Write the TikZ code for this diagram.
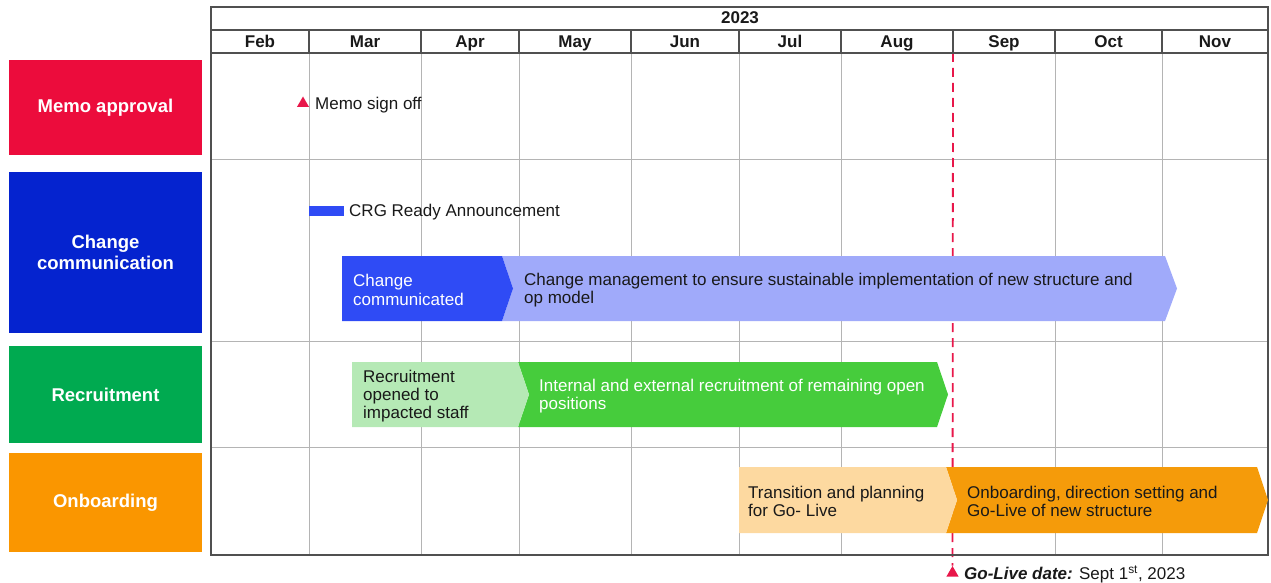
\documentclass[tikz,border=0pt]{standalone}
\usepackage{fontspec}
\setmainfont{Liberation Sans}
\usetikzlibrary{shapes.geometric}
\definecolor{memored}{RGB}{236,12,60}
\definecolor{chblue}{RGB}{5,35,207}
\definecolor{recgreen}{RGB}{0,170,80}
\definecolor{onborange}{RGB}{250,150,0}
\definecolor{barblue}{RGB}{47,75,245}
\definecolor{barlblue}{RGB}{160,170,250}
\definecolor{barlgreen}{RGB}{181,233,181}
\definecolor{bargreen}{RGB}{70,204,60}
\definecolor{barlorange}{RGB}{253,217,160}
\definecolor{barorange}{RGB}{245,155,10}
\definecolor{golred}{RGB}{232,23,74}
\definecolor{gridgray}{RGB}{180,180,180}
\definecolor{framegray}{RGB}{80,80,80}
\definecolor{txt}{RGB}{25,25,25}
\begin{document}
\begin{tikzpicture}[x=1pt,y=-1pt,
  catbox/.style={fill=#1,draw=none,text=white,font=\fontsize{18.5}{20.5}\selectfont\bfseries,align=center},
  monthlbl/.style={anchor=base,inner sep=0pt,font=\fontsize{17}{19}\selectfont\bfseries,text=txt},
  bartext/.style={anchor=west,inner sep=0pt,align=left,yshift=-1.5pt,font=\fontsize{17}{18.3}\selectfont,text=txt},
  gridline/.style={draw=gridgray,line width=0.9pt},
  frameline/.style={draw=framegray,line width=1.3pt},
  milestone/.style={fill=golred,draw=none,regular polygon,regular polygon sides=3,inner sep=0pt,minimum size=14pt}
]
\useasboundingbox (0,0) rectangle (1271,583);
% left category boxes
\node[catbox=memored,minimum width=193pt,minimum height=95pt] (memo) at (105.5,107.5) {Memo approval};
\node[catbox=chblue,minimum width=193pt,minimum height=161pt] (chg) at (105.5,252.5) {Change\\communication};
\node[catbox=recgreen,minimum width=193pt,minimum height=97pt] (rec) at (105.5,394.5) {Recruitment};
\node[catbox=onborange,minimum width=193pt,minimum height=99pt] (onb) at (105.5,502.5) {Onboarding};
% body grid verticals
\foreach \xx in {309,421,519,631,739,841,1055,1162}{
  \draw[gridline] (\xx,53) -- (\xx,555);
}
% row separators
\foreach \yy in {159,341,447}{
  \draw[gridline] (211,\yy) -- (1268,\yy);
}
% go-live line (drawn under the bars)
\node[milestone] (tri2) at (952.5,573) {};
\coordinate (gltop) at (953,53);
\draw[golred,line width=1.8pt,dash pattern=on 9pt off 6pt] (gltop) -- (tri2.north);
% header
\draw[frameline] (211,7) rectangle (1268,555);
\draw[frameline] (211,30) -- (1268,30);
\draw[frameline] (211,53) -- (1268,53);
\foreach \xx in {309,421,519,631,739,841,953,1055,1162}{
  \draw[frameline] (\xx,30) -- (\xx,53);
}
\node[monthlbl] (yr) at (740,24) {2023};
\node[monthlbl] (feb) at (260,48) {Feb};
\node[monthlbl] (mar) at (365,48) {Mar};
\node[monthlbl] (apr) at (470,48) {Apr};
\node[monthlbl] (may) at (575,48) {May};
\node[monthlbl] (jun) at (685,48) {Jun};
\node[monthlbl] (jul) at (790,48) {Jul};
\node[monthlbl] (aug) at (897,48) {Aug};
\node[monthlbl] (sep) at (1004,48) {Sep};
\node[monthlbl] (oct) at (1108.5,48) {Oct};
\node[monthlbl] (nov) at (1215,48) {Nov};
% memo sign off
\node[milestone] (tri1) at (303,103.5) {};
\node[bartext] (memotxt) at (315,104) {Memo sign off};
% CRG
\fill[barblue] (309,206) rectangle (344,216);
\node[bartext] (crg) at (349,211) {CRG Ready Announcement};
% change chevrons
\fill[barlblue] (502,256) -- (1165,256) -- (1177,288.5) -- (1165,321) -- (502,321) -- (513,288.5) -- cycle;
\fill[barblue] (342,256) -- (502,256) -- (513,288.5) -- (502,321) -- (342,321) -- cycle;
\node[bartext,text=white] (chcom) at (353,288.5) {Change\\communicated};
\node[bartext] (chmgmt) at (524,288.5) {Change management to ensure sustainable implementation of new structure and\\op model};
% recruitment chevrons
\fill[bargreen] (518,362) -- (937,362) -- (948,394.5) -- (937,427) -- (518,427) -- (529,394.5) -- cycle;
\fill[barlgreen] (352,362) -- (518,362) -- (529,394.5) -- (518,427) -- (352,427) -- cycle;
\node[bartext] (recopen) at (363,394.5) {Recruitment\\opened to\\impacted staff};
\node[bartext,text=white] (recint) at (539,394.5) {Internal and external recruitment of remaining open\\positions};
% onboarding chevrons
\fill[barorange] (946,467) -- (1257,467) -- (1268,500) -- (1257,533) -- (946,533) -- (957,500) -- cycle;
\fill[barlorange] (739,467) -- (946,467) -- (957,500) -- (946,533) -- (739,533) -- cycle;
\node[bartext] (trans) at (748,500) {Transition and planning\\for Go- Live};
\node[bartext] (onbtxt) at (967,500) {Onboarding, direction setting and\\Go-Live of new structure};
% go-live text
\node[bartext] (gltxt) at (964,573) {\textbf{\textit{Go-Live date:}} Sept 1\textsuperscript{st}, 2023};
\end{tikzpicture}
\end{document}
